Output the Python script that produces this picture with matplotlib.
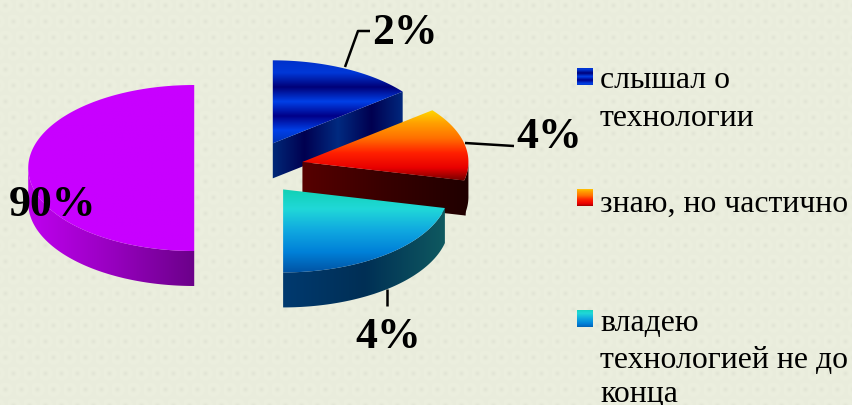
import numpy as np
import matplotlib
matplotlib.use("Agg")
import matplotlib.pyplot as plt
from matplotlib.colors import LinearSegmentedColormap as LSC
from matplotlib.patches import Polygon

# --- data -------------------------------------------------------------
categories = ["слышал о\nтехнологии", "знаю, но частично", "владею\nтехнологией не до\nконца", ""]
labels = ["2%", "4%", "4%", "90%"]
# the slices are not drawn to the printed percentages; these are the
# shares
drawn_shares = [14.3, 14.3, 21.4, 50.0]

top_colors = [
    ["#0030c8", "#0038d8", "#000078", "#0040e8", "#000088", "#0040e8", "#0030b0"],
    ["#ffe000", "#ffa000", "#ff7000", "#ff2000", "#e80000", "#600000"],
    ["#10d0b0", "#20d8d8", "#10a8e0", "#0080d8", "#0050a0"],
    ["#c800ff", "#c800ff"],
]
side_colors = [
    ["#002a7a", "#000050", "#002a80", "#000050", "#002a80"],
    ["#580000", "#380000", "#200000"],
    ["#003a70", "#002f55", "#0f5a60"],
    ["#c000f0", "#9800c0", "#6a0088"],
]

# --- geometry of the pseudo-3D pie, in pixels ---------------------------
CX, CY, RX, RY, DEPTH, EXPLODE = 249, 169, 166, 83, 35, 0.33

W, H = 852, 406
fig = plt.figure(figsize=(W / 100, H / 100), dpi=100)
ax = fig.add_axes([0, 0, 1, 1])
ax.axis("off")

# background: pale paper with a faint staggered dot texture
yy, xx = np.mgrid[0:H, 0:W]
u, v = (xx + 8 * (np.floor(yy / 16) % 2)) % 16, yy % 16
d = np.hypot(u - 5, v - 6)
bg = 1 - 0.030 * np.exp(-(d / 2.0) ** 2) + 0.012 * np.exp(-((d - 5) / 2.5) ** 2)
base = np.array([0xe9, 0xec, 0xdc]) / 255
ax.imshow(np.clip(bg[..., None] * base, 0, 1), extent=(0, W, H, 0), aspect="auto", zorder=0,
          interpolation="bilinear")


def gradient(poly, colors, vertical, z):
    p = Polygon(poly, closed=True, transform=ax.transData, fc="none", ec="none")
    ax.add_patch(p)
    x0, y0 = poly.min(axis=0) - 2
    x1, y1 = poly.max(axis=0) + 2
    g = np.linspace(0, 1, 256)
    g = g[:, None] if vertical else g[None, :]
    im = ax.imshow(g, cmap=LSC.from_list("g", colors), vmin=0, vmax=1, extent=(x0, x1, y1, y0),
                   aspect="auto", zorder=z, interpolation="bilinear")
    im.set_clip_path(p)


def arc(cx, cy, a0, a1, dy=0):
    t = np.radians(np.linspace(a0, a1, 120))
    return np.column_stack([cx + RX * np.sin(t), cy - RY * np.cos(t) + dy])


angles = np.concatenate([[0], np.cumsum(drawn_shares) / np.sum(drawn_shares) * 360])
order = [3, 0, 1, 2]
for z, i in enumerate(order):
    a0, a1 = angles[i], angles[i + 1]
    mid = np.radians((a0 + a1) / 2)
    cx = CX + EXPLODE * RX * np.sin(mid)
    cy = CY - EXPLODE * RY * np.cos(mid)
    zb = 2 + z * 3
    # outer rim: only the part facing the viewer
    s0, s1 = max(a0, 90), min(a1, 270)
    rim = None
    if s1 > s0:
        rim = np.vstack([arc(cx, cy, s0, s1), arc(cx, cy, s0, s1, DEPTH)[::-1]])
    # cut face that turns toward the viewer (only where it is not hidden)
    if a1 < 120:
        end = arc(cx, cy, a1, a1)[0]
        over = 1.5 if rim is not None else 0  # overlap so no seam shows against the rim
        face = np.array([[cx, cy], end + [over, 0], end + [over, DEPTH], [cx, cy + DEPTH]])
        gradient(face, side_colors[i], False, zb)
    if rim is not None:
        rim_colors = [side_colors[i][-1]] * 2 if i == 1 else side_colors[i]
        gradient(rim, rim_colors, False, zb + 1)
    top = np.vstack([[cx, cy], arc(cx, cy, a0, a1)])
    gradient(top, top_colors[i], True, zb + 2)

# leader lines
lz = 30
ax.plot([345, 358, 370], [68, 32, 32], color="black", lw=1.8, zorder=lz, solid_capstyle="butt")
ax.plot([465, 514], [144, 147], color="black", lw=1.8, zorder=lz, solid_capstyle="butt")
ax.plot([387, 387], [290, 307], color="black", lw=1.8, zorder=1, solid_capstyle="butt")

# value labels
serif = "Liberation Serif"
label_pos = [(405, 43.5), (549, 148), (388, 348), (53, 216.5)]
for s, (x, y) in zip(labels, label_pos):
    ax.text(x, y, s, ha="center", va="baseline", family=serif, weight="bold",
            fontsize=31.5, color="black", zorder=31)

# legend
swatch_y = [69, 190, 311]
line_y = [[88.5, 126], [212], [331, 368, 402.5]]
for i in range(3):
    y0 = swatch_y[i]
    sw = np.array([[577, y0], [593, y0], [593, y0 + 17], [577, y0 + 17]])
    gradient(sw, top_colors[i], True, 32)
    for y, line in zip(line_y[i], categories[i].split("\n")):
        ax.text(600, y, line, ha="left", va="baseline", family=serif,
                fontsize=22.9, color="black", zorder=33)

ax.set_xlim(0, W)
ax.set_ylim(H, 0)
fig.savefig("out.png", dpi=100)
